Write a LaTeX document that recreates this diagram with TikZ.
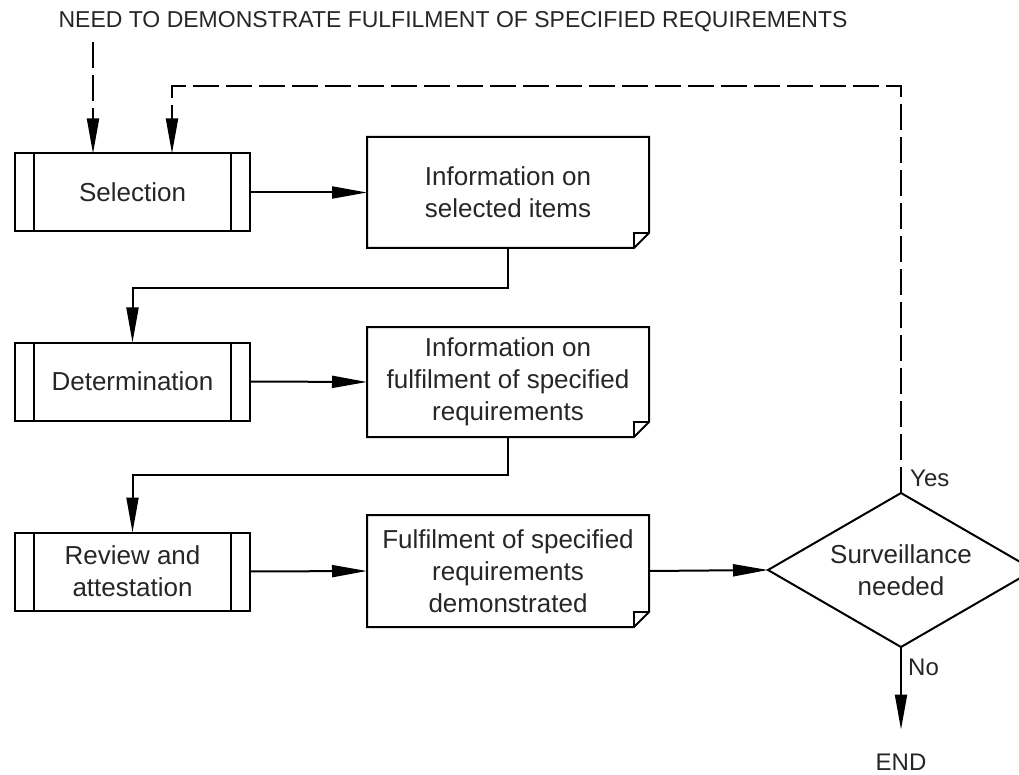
\documentclass[tikz,border=0pt]{standalone}
\usepackage{fontspec}
\setmainfont{Liberation Sans}
\usetikzlibrary{arrows.meta,shapes.geometric,calc}
\newcommand{\docbox}[4]{%
  \node[doc, minimum height=#3] (#1) at #2 {#4};
  \draw[ln, line join=miter] (#1.north west) -- (#1.north east) -- ([yshift=15pt]#1.south east) -- ([xshift=-15pt]#1.south east) -- (#1.south west) -- cycle;
  \draw[ln] ([yshift=15pt]#1.south east) -- ([shift={(-15pt,15pt)}]#1.south east) -- ([xshift=-15pt]#1.south east);
}
\begin{document}
\begin{tikzpicture}[x=1pt,y=-1pt,
  every node/.style={font=\fontsize{26}{32}\selectfont, text=black!85},
  ln/.style={line width=2pt},
  proc/.style={draw, line width=2pt, minimum width=235pt, minimum height=78pt, inner sep=0pt, outer sep=0pt, align=center,
    path picture={\draw[line width=2pt] ([xshift=19pt]path picture bounding box.north west) -- ([xshift=19pt]path picture bounding box.south west)
      ([xshift=-19pt]path picture bounding box.north east) -- ([xshift=-19pt]path picture bounding box.south east);}},
  doc/.style={minimum width=282pt, inner sep=0pt, outer sep=0pt, align=center},
  arr/.style={line width=2pt, -{Triangle[length=35pt,width=12pt]}},
  dasharr/.style={arr, dash pattern=on 26pt off 7pt},
  lbl/.style={inner sep=0pt, font=\fontsize{24}{28}\selectfont},
]
\useasboundingbox (0,0) rectangle (1019,775);

\node[inner sep=0pt, font=\fontsize{23}{28}\selectfont] (title) at (453,22) {NEED TO DEMONSTRATE FULFILMENT OF SPECIFIED REQUIREMENTS};

\node[proc] (sel) at (132.5,192.5) {Selection};
\node[proc] (det) at (132.5,381.5) {Determination};
\node[proc] (rev) at (132.5,571.5) {Review and\\attestation};

\docbox{info1}{(508,192.5)}{111pt}{Information on\\selected items}
\docbox{info2}{(508,382)}{110pt}{Information on\\fulfilment of specified\\requirements}
\docbox{info3}{(508,571)}{112pt}{Fulfilment of specified\\requirements\\demonstrated}

\node[diamond, aspect=1.727, draw, line width=2pt, minimum width=266pt, minimum height=154pt, inner sep=0pt, outer sep=0pt, align=center] (dia) at (901,570) {Surveillance\\needed};

\node[lbl, anchor=west] (yes) at (910,478) {Yes};
\node[lbl, anchor=west] (no) at (908,667) {No};
\node[lbl] (end) at (901,762) {END};

\coordinate (in) at (93,42);
\coordinate (fb) at (172,86);

\draw[dasharr] (in) -- (in |- sel.north);
\draw[dasharr] (dia.north) |- (fb) -- (fb |- sel.north);

\draw[arr] (sel.east) -- (info1.west);
\draw[arr] (det.east) -- (info2.west);
\draw[arr] (rev.east) -- (info3.west);
\draw[arr] (info3.east) -- (dia.west);

\draw[arr] (info1.south) -- ++(0,40) -| (det.north);
\draw[arr] (info2.south) -- ++(0,38) -| (rev.north);

\draw[arr, shorten >=24pt] (dia.south) -- (end);
\end{tikzpicture}
\end{document}
